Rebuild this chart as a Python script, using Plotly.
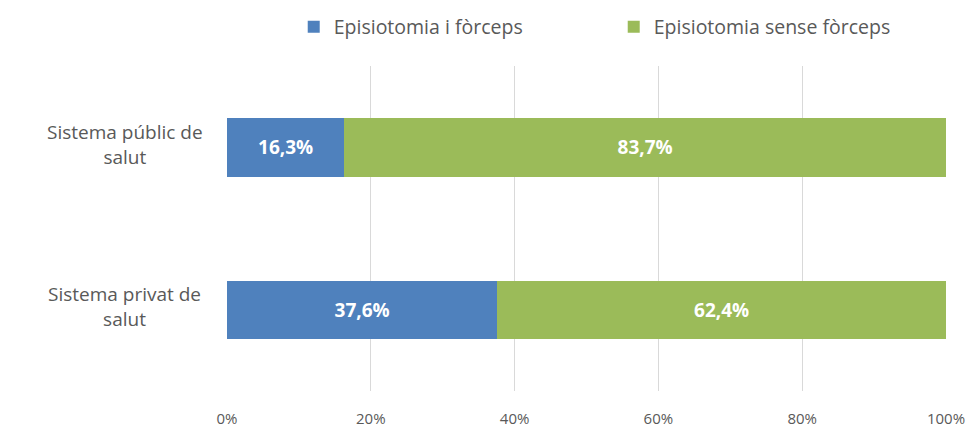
import plotly.graph_objects as go

categories = ["Sistema públic de<br>salut", "Sistema privat de<br>salut"]
series_names = ["Episiotomia i fòrceps", "Episiotomia sense fòrceps"]
amb_forceps = [16.3, 37.6]
sense_forceps = [83.7, 62.4]
tick_vals = [0, 20, 40, 60, 80, 100]
tick_text = ["0%", "20%", "40%", "60%", "80%", "100%"]

colors = ["#4F81BD", "#9BBB59"]
font_family = "Open Sans, Liberation Sans, sans-serif"
text_grey = "#595959"


def fmt(v):
    return f"{v:.1f}%".replace(".", ",")


fig = go.Figure()
for name, vals, col in zip(series_names, [amb_forceps, sense_forceps], colors):
    fig.add_trace(go.Bar(
        y=categories, x=vals, name=name, orientation="h",
        marker=dict(color=col, line=dict(width=0)),
        text=[fmt(v) for v in vals], textposition="inside",
        insidetextanchor="middle",
        textfont=dict(color="white", size=19, family=font_family, weight="bold"),
        width=0.36,
    ))

# Category labels, centred over two lines to the left of the plot
for cat in categories:
    fig.add_annotation(
        x=-0.142, xref="paper", xanchor="center",
        y=cat, yref="y", yanchor="middle", yshift=3,
        text=cat, showarrow=False, align="center",
        font=dict(size=19, color=text_grey, family=font_family),
    )

fig.update_layout(
    barmode="stack",
    width=980, height=431,
    margin=dict(l=227, r=34, t=66, b=40, autoexpand=False),
    paper_bgcolor="white", plot_bgcolor="white",
    font=dict(family=font_family, color=text_grey, size=15),
    legend=dict(orientation="h", x=0.0928, xanchor="left", y=1.06, yanchor="bottom",
                font=dict(size=19.5, color=text_grey), traceorder="normal",
                entrywidth=275, itemwidth=30),
    xaxis=dict(range=[0, 100], tickvals=tick_vals, ticktext=tick_text,
               showgrid=True, gridcolor="#D9D9D9", gridwidth=1,
               zeroline=False, showline=False, ticks="",
               ticklabelstandoff=17, tickfont=dict(size=15, color=text_grey)),
    yaxis=dict(categoryorder="array", categoryarray=categories[::-1],
               showgrid=False, showline=False, ticks="", showticklabels=False),
    showlegend=True,
)
fig.write_html("out.html")
